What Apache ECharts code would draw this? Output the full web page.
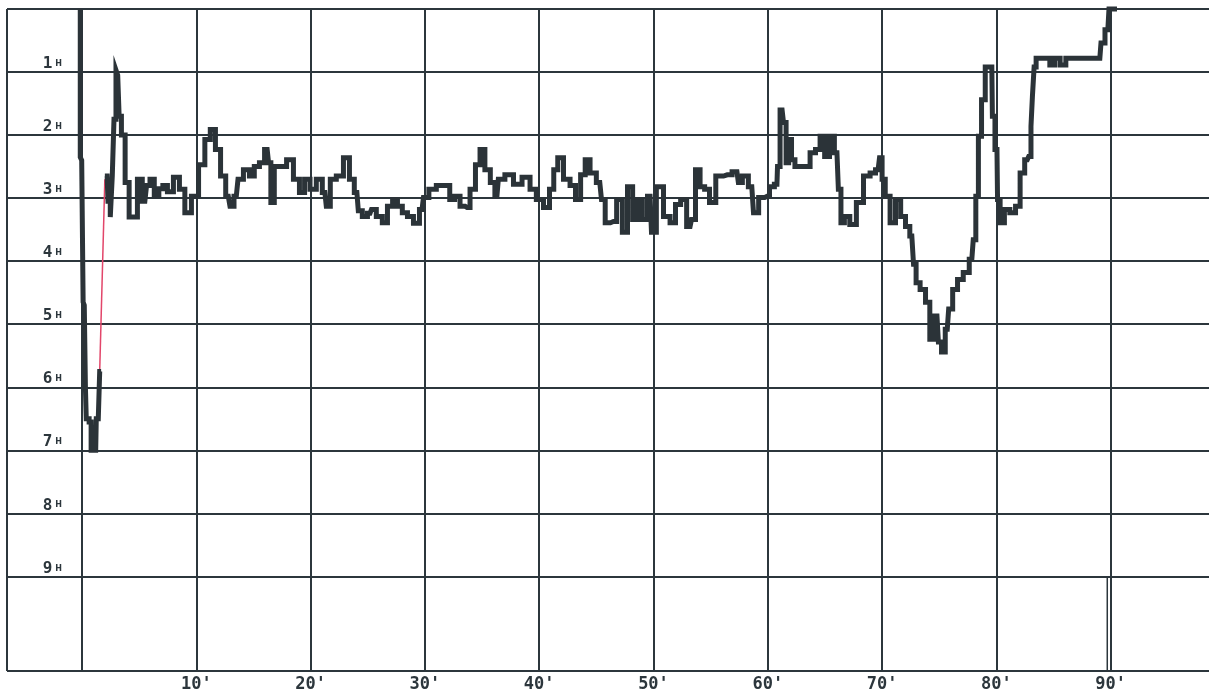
<!DOCTYPE html>
<html>
<head>
<meta charset="utf-8">
<script src="https://cdn.jsdelivr.net/npm/echarts@6.0.0/dist/echarts.min.js"></script>
<style>
  html, body { margin: 0; padding: 0; background: #fff; overflow: hidden; }
  #chart { width: 1209px; height: 693px; }
</style>
</head>
<body>
<div id="chart"></div>
<script>
// time in minutes, depth level (H)
const minutes = [
  -0.15, -0.15, 0.1, 0.1, 0.3, 0.3, 0.45, 0.8, 0.8, 1.2, 1.3, 1.55, 1.55, 1.8,
  2.2, 2.35, 2.6, 2.7, 2.9, 3.05, 3.2, 3.3, 3.6, 3.95, 4.3, 4.65, 5.05, 5.5, 5.8, 6.1, 6.55, 6.9, 7.25, 7.7, 8.3, 8.75, 9.25, 9.9,
  10.5, 11.0, 11.45, 11.9, 12.35, 12.8, 13.1, 13.5, 13.8, 14.45, 14.85, 15.3, 15.75, 16.2, 16.45, 16.6, 17.05, 17.6, 18.2, 18.8, 19.25, 19.7,
  20.2, 20.8, 21.25, 21.5, 21.95, 22.55, 23.2, 23.6, 24.05, 24.3, 24.75, 25.2, 25.45, 26.05, 26.5, 26.95, 27.4, 27.8, 28.25, 28.7, 29.3, 29.75,
  30.0, 30.7, 31.3, 31.95, 32.4, 32.8, 33.35, 33.7, 34.2, 34.65, 35.0, 35.5, 35.95, 36.3, 36.55, 37.45, 38.05, 38.95, 39.45,
  40.05, 40.7, 41.1, 41.45, 41.8, 42.45, 42.95, 43.4, 43.85, 44.2, 44.7, 45.3, 45.6, 45.95, 46.5, 47.05, 47.5, 47.95, 48.4, 48.8, 49.25, 49.7, 49.95,
  50.55, 51.2, 51.7, 52.15, 52.6, 53.2, 53.45, 53.9, 54.25, 54.7, 55.1, 55.8, 56.45, 57.3, 57.55, 58.0, 58.6, 58.9, 59.5, 59.95,
  60.35, 60.8, 60.9, 61.25, 61.5, 61.7, 61.95, 62.2, 62.55, 63.45, 63.95, 64.4, 64.75, 65.2, 65.6, 66.05, 66.3, 66.5, 66.9, 67.45, 68.05, 68.7, 69.2, 69.65, 69.9,
  70.1, 70.45, 70.95, 71.4, 71.85, 72.25, 72.6, 72.9, 73.05, 73.6, 74.0, 74.35, 74.8, 75.05, 75.35, 75.7, 75.95, 76.4, 76.8, 77.4, 77.85, 78.1, 78.3, 78.55, 78.85, 79.2, 79.6, 79.7,
  80.05, 80.15, 80.5, 80.9, 81.45, 81.9, 82.25, 82.7, 82.95, 83.1, 83.2, 83.4, 83.55, 84.45, 84.9, 85.3, 85.85, 86.3, 89.05, 89.25, 89.75, 89.95, 90.55
]
const depth = [
  0, 2.35, 2.4, 4.65, 4.7, 6.0, 6.5, 6.55, 7.0, 7.0, 6.5, 6.5, 5.75, null,
  2.65, 3.05, 3.3, 2.65, 1.75, 0.97, 1.05, 1.7, 2.0, 2.75, 3.3, 3.3, 2.7, 3.05, 2.8, 2.7, 2.97, 2.85, 2.8, 2.9, 2.67, 2.86, 3.23, 2.97,
  2.47, 2.07, 1.91, 2.23, 2.65, 2.97, 3.13, 2.97, 2.7, 2.55, 2.65, 2.5, 2.44, 2.23, 2.44, 3.07, 2.5, 2.5, 2.39, 2.7, 2.91, 2.7,
  2.86, 2.7, 2.91, 3.13, 2.7, 2.65, 2.36, 2.7, 2.91, 3.2, 3.29, 3.24, 3.18, 3.29, 3.39, 3.13, 3.02, 3.13, 3.23, 3.29, 3.4, 3.18,
  2.99, 2.86, 2.8, 2.8, 3.02, 2.97, 3.13, 3.15, 2.86, 2.47, 2.23, 2.55, 2.75, 2.97, 2.7, 2.63, 2.78, 2.67, 2.86,
  3.02, 3.15, 2.86, 2.55, 2.36, 2.7, 2.8, 3.02, 2.63, 2.39, 2.6, 2.75, 3.02, 3.39, 3.37, 3.02, 3.54, 2.82, 3.34, 3.02, 3.34, 2.97, 3.54,
  2.82, 3.29, 3.39, 3.1, 3.02, 3.45, 3.34, 2.55, 2.82, 2.86, 3.07, 2.65, 2.63, 2.58, 2.75, 2.65, 2.82, 3.23, 2.99, 2.97,
  2.82, 2.78, 2.5, 1.6, 1.8, 2.44, 2.07, 2.39, 2.5, 2.5, 2.28, 2.23, 2.02, 2.34, 2.02, 2.28, 2.86, 3.39, 3.29, 3.42, 3.07, 2.65, 2.6, 2.55, 2.36,
  2.7, 2.97, 3.39, 3.02, 3.29, 3.45, 3.6, 4.05, 4.34, 4.45, 4.65, 5.24, 4.87, 5.28, 5.44, 5.08, 4.76, 4.45, 4.29, 4.18, 3.97, 3.66, 2.97, 2.02, 1.44, 0.92, 0.92, 1.7,
  2.23, 3.02, 3.39, 3.18, 3.23, 3.13, 2.6, 2.39, 2.34, 1.86, 1.39, 0.92, 0.78, 0.78, 0.89, 0.78, 0.89, 0.78, 0.78, 0.54, 0.33, 0, 0
]

// red connecting stroke after the first dip
const jumpMinutes = [1.55, 2.0]
const jumpDepth = [5.75, 2.7]

// end-of-record tick near 90'
const endMinutes = [89.7, 89.7]
const endDepth = [9.0, 10.5]

const X_MIN = -6.56
const X_MAX = 98.6
const Y_MAX = 10.5
const gridMinutes = [X_MIN, 0, 10, 20, 30, 40, 50, 60, 70, 80, 90]
const gridDepths = [0, 1, 2, 3, 4, 5, 6, 7, 8, 9, Y_MAX]
const xLabelMinutes = [10, 20, 30, 40, 50, 60, 70, 80, 90]
const yLabelDepths = [1, 2, 3, 4, 5, 6, 7, 8, 9]

const INK = '#2c363c'
const chart = echarts.init(document.getElementById('chart'))

// the paper has a left, top and bottom frame but no right edge
const gridLines = [
  ...gridMinutes.map(m => ({ xAxis: m })),
  ...gridDepths.map(d => ({ yAxis: d })),
]

chart.setOption({
  animation: false,
  backgroundColor: '#fff',
  grid: { left: 7, top: 9, right: 0, bottom: 21, show: false },
  xAxis: {
    type: 'value',
    min: X_MIN,
    max: X_MAX,
    axisLine: { show: false },
    axisTick: { show: false },
    splitLine: { show: false },
    axisLabel: {
      customValues: xLabelMinutes,
      formatter: v => v + "'",
      margin: 5,
      fontFamily: 'DejaVu Sans Mono',
      fontWeight: 'bold',
      fontSize: 17,
      color: INK,
    },
  },
  yAxis: {
    type: 'value',
    inverse: true,
    min: 0,
    max: Y_MAX,
    interval: 1,
    offset: -75,
    axisLine: { show: false },
    axisTick: { show: false },
    splitLine: { show: false },
    axisLabel: {
      margin: 20,
      verticalAlign: 'bottom',
      formatter: v => yLabelDepths.includes(v) ? `{n|${v}}{h|H}` : '',
      rich: {
        n: { fontFamily: 'DejaVu Sans Mono', fontWeight: 'bold', fontSize: 16, color: INK },
        h: { fontFamily: 'DejaVu Sans', fontWeight: 'bold', fontSize: 8, color: INK, padding: [0, 0, 0, 3] },
      },
    },
  },
  series: [
    {
      name: 'end',
      type: 'line',
      data: endMinutes.map((m, i) => [m, endDepth[i]]),
      symbol: 'none',
      lineStyle: { color: INK, width: 1.5 },
      z: 2,
      markLine: {
        silent: true,
        symbol: 'none',
        label: { show: false },
        z: 1,
        lineStyle: { color: INK, width: 2, type: 'solid' },
        data: gridLines,
      },
    },
    {
      name: 'jump',
      type: 'line',
      data: jumpMinutes.map((m, i) => [m, jumpDepth[i]]),
      symbol: 'none',
      lineStyle: { color: '#e2466a', width: 1.5 },
      z: 3,
    },
    {
      name: 'trace',
      type: 'line',
      data: minutes.map((m, i) => [m, depth[i]]),
      symbol: 'none',
      step: 'middle',
      clip: false,
      connectNulls: false,
      lineStyle: { color: '#2b3338', width: 5, join: 'miter', cap: 'butt' },
      z: 4,
    },
  ],
})
</script>
</body>
</html>
